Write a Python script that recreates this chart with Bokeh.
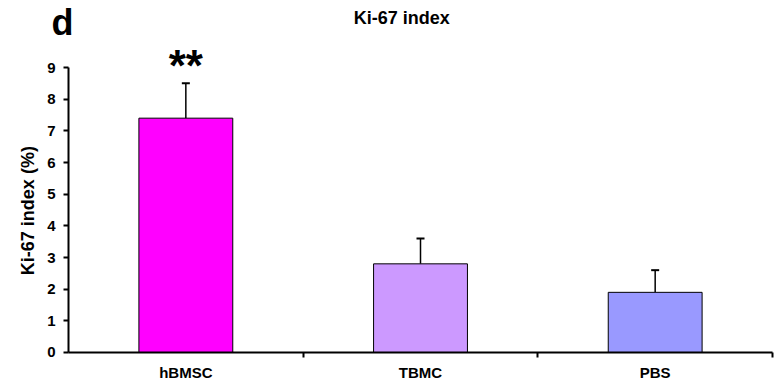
import math
from bokeh.plotting import figure
from bokeh.models import (ColumnDataSource, Range1d, FixedTicker, Whisker, TeeHead, Label)
from bokeh.embed import file_html
from bokeh.resources import INLINE

groups = ["hBMSC", "TBMC", "PBS"]
values = [7.4, 2.8, 1.9]
errors = [1.1, 0.8, 0.7]
colors = ["#FF00FF", "#CC99FF", "#9999FF"]
y_ticks = [0, 1, 2, 3, 4, 5, 6, 7, 8, 9]

xpos = [i + 0.5 for i in range(len(groups))]
upper = [v + e for v, e in zip(values, errors)]

src = ColumnDataSource(dict(x=xpos, top=values, upper=upper, color=colors))

p = figure(width=774, height=383, output_backend="svg", toolbar_location=None,
           x_range=Range1d(-0.2898, 3.0085), y_range=Range1d(-0.979, 11.116),
           min_border_left=0, min_border_right=0, min_border_top=0, min_border_bottom=0)
p.outline_line_color = None
p.grid.grid_line_color = None
p.background_fill_color = "white"

p.vbar(x="x", top="top", bottom=0, width=0.40, fill_color="color",
       line_color="black", line_width=1, source=src)

w = Whisker(source=src, base="x", upper="upper", lower="top", dimension="height",
            line_color="black", line_width=1.5,
            upper_head=TeeHead(size=8, line_color="black", line_width=2),
            lower_head=None)
p.add_layout(w)

font = "Liberation Sans"

# x axis
xa = p.xaxis[0]
xa.fixed_location = 0
xa.bounds = (0, 3)
xa.ticker = FixedTicker(ticks=xpos, minor_ticks=[1, 2, 3])
xa.major_label_overrides = {x: g for x, g in zip(xpos, groups)}
xa.major_tick_line_color = None
xa.major_tick_out = 0
xa.major_tick_in = 0
xa.minor_tick_out = 5
xa.minor_tick_in = 0
xa.minor_tick_line_color = "black"
xa.minor_tick_line_width = 2
xa.axis_line_width = 2
xa.axis_line_color = "black"
xa.major_label_standoff = 7
xa.major_label_text_font = font
xa.major_label_text_font_style = "bold"
xa.major_label_text_font_size = "15px"
xa.major_label_text_color = "black"

# y axis
ya = p.yaxis[0]
ya.fixed_location = 0
ya.bounds = (0, 9)
ya.ticker = FixedTicker(ticks=y_ticks)
ya.minor_tick_line_color = None
ya.major_tick_out = 5
ya.major_tick_in = 0
ya.major_tick_line_width = 2
ya.axis_line_width = 2
ya.axis_line_color = "black"
ya.major_label_standoff = 8
ya.major_label_text_font = font
ya.major_label_text_font_style = "bold"
ya.major_label_text_font_size = "15px"
ya.major_label_text_color = "black"

# annotations
p.add_layout(Label(x=-0.1705, y=4.48, text="Ki-67 index (%)", angle=math.pi / 2,
                   text_align="center", text_baseline="middle", text_font=font,
                   text_font_style="bold", text_font_size="18px", text_color="black"))
p.add_layout(Label(x=1.42, y=10.55, text="Ki-67 index", text_align="center",
                   text_baseline="alphabetic", text_font=font, text_font_style="bold",
                   text_font_size="18px", text_color="black"))
p.add_layout(Label(x=-0.0724, y=10.43, text="d", text_align="left",
                   text_baseline="alphabetic", text_font=font, text_font_style="bold",
                   text_font_size="36px", text_color="black"))
p.add_layout(Label(x=xpos[0], y=9.06, text="**", text_align="center",
                   text_baseline="alphabetic", text_font=font, text_font_style="bold",
                   text_font_size="44px", text_color="black"))

open("out.html", "w").write(file_html(p, INLINE))
